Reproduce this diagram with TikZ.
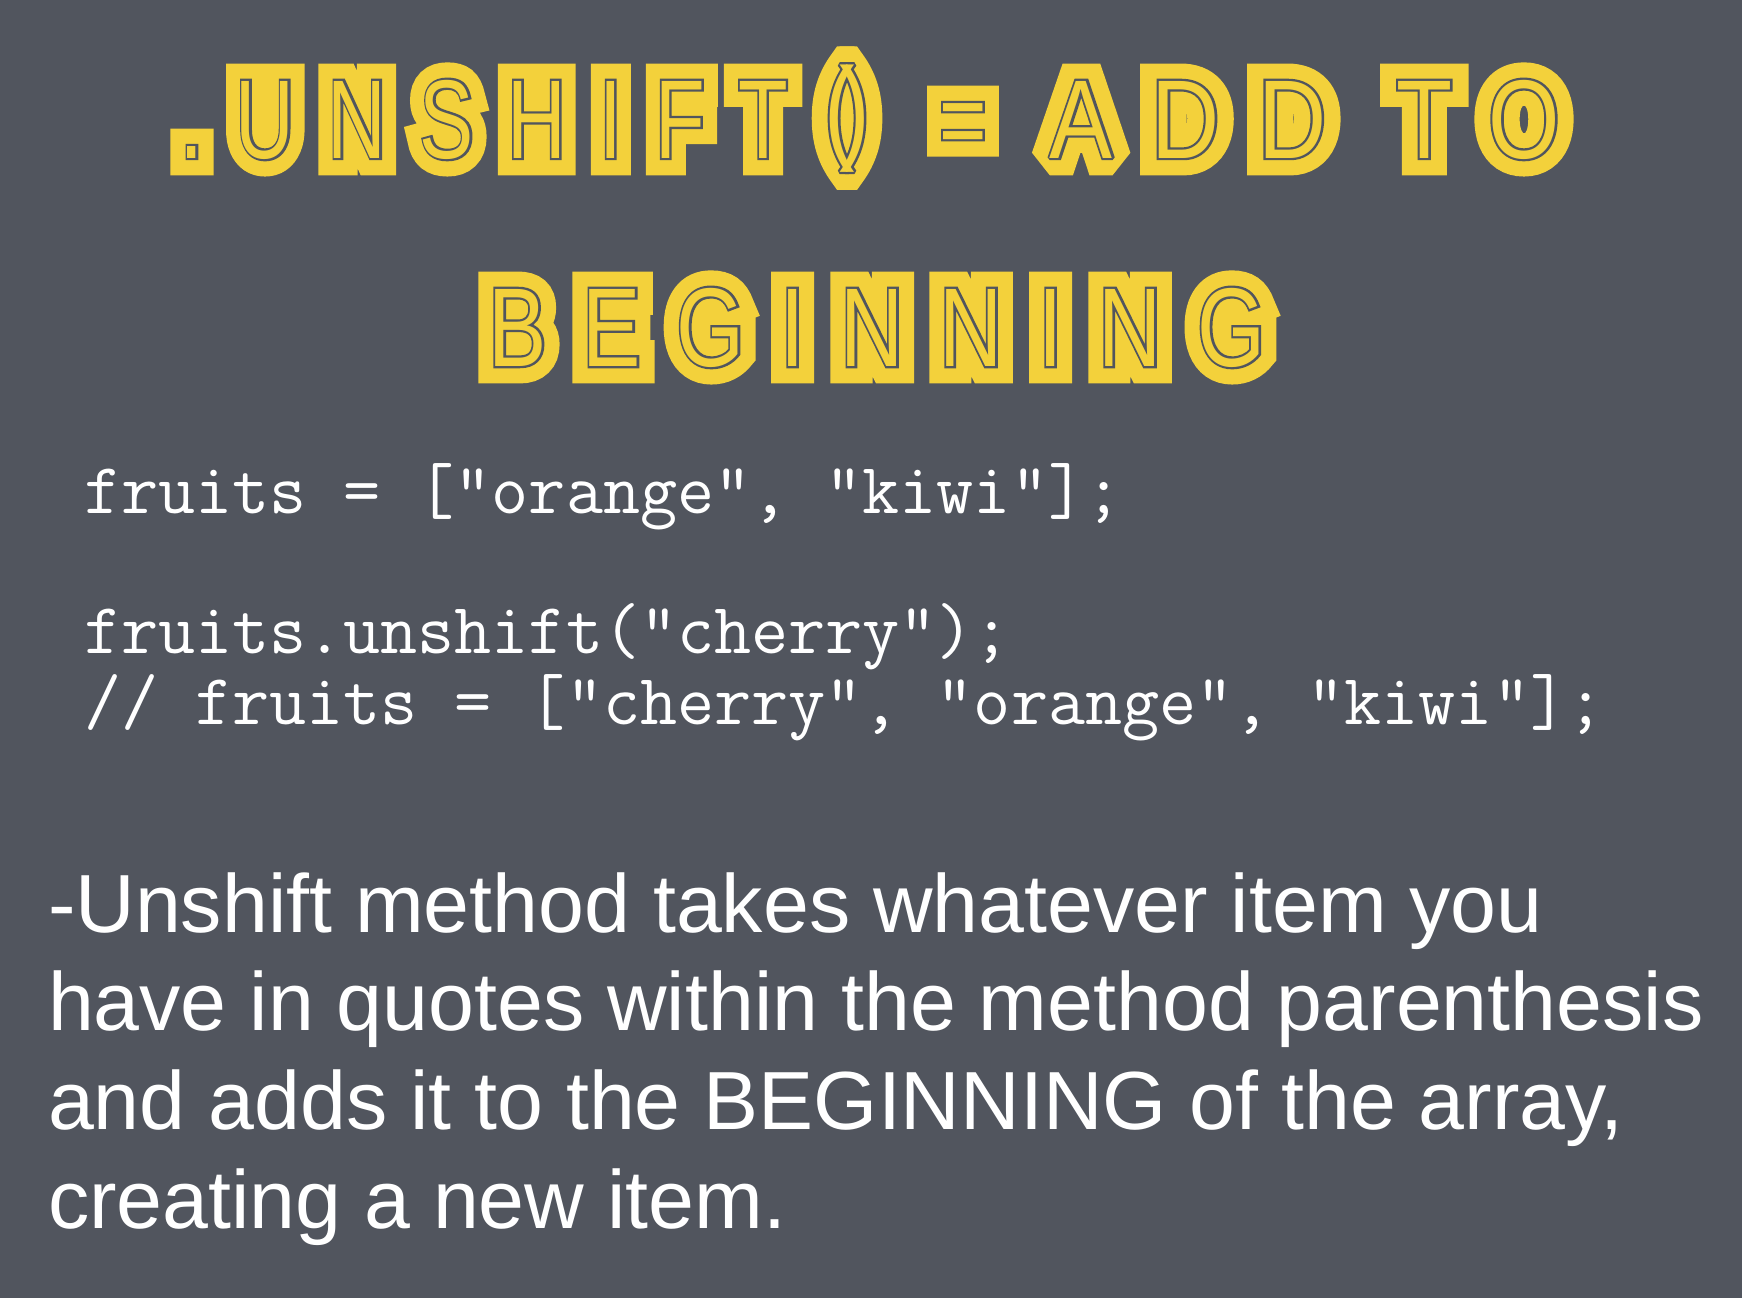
\documentclass[tikz,border=0pt]{standalone}
\usepackage{fontspec}
\setmainfont{Liberation Sans}
\newfontfamily\tFat[FakeBold=31,FakeStretch=0.78,LetterSpace=32]{Liberation Sans}
\newfontfamily\tMid[FakeBold=4,FakeStretch=0.78,LetterSpace=32]{Liberation Sans}
\newfontfamily\tThin[FakeStretch=0.78,LetterSpace=32]{Liberation Sans}
\definecolor{bg}{HTML}{51555E}
\definecolor{ylw}{HTML}{F3D13B}
\newcommand\ttlpiece[4]{%
  \node[tfat]  (#1a) at (#2,#3) {#4};
  \node[tmid]  (#1b) at (#2,#3) {#4};
  \node[tthin] (#1c) at (#2,#3) {#4};}
\tikzset{
  every node/.style={inner sep=0pt, outer sep=0pt},
  tbase/.style={anchor=base, execute at begin node={\special{pdf:literal direct 0 j 1.6 M 0 J}}},
  tfat/.style={tbase, text=ylw, font=\tFat\fontsize{112}{120}\selectfont},
  tmid/.style={tbase, text=bg, font=\tMid\fontsize{112}{120}\selectfont},
  tthin/.style={tbase, text=ylw, font=\tThin\fontsize{112}{120}\selectfont},
  codeline/.style={anchor=base west, text=white, font=\ttfamily\fontsize{72}{70}\selectfont},
  bodyline/.style={anchor=base west, text=white, font=\fontsize{82.5}{98}\selectfont},
}
\begin{document}
\begin{tikzpicture}[x=1pt,y=-1pt]
\fill[bg] (0,0) rectangle (1742,1298);
\useasboundingbox (0,0) rectangle (1742,1298);
% title line 1
\ttlpiece{dot}{192}{158}{.}
\ttlpiece{uns}{512}{158}{\scalebox{0.93}[1]{UNSHIFT}}
\ttlpiece{par}{847}{148}{\scalebox{1.05}[1.03]{(\kern-15pt)}}
\ttlpiece{eq}{963}{158}{\scalebox{0.93}[1]{=}}
\ttlpiece{add}{1188}{158}{\scalebox{1.08}[1]{ADD}}
\ttlpiece{to}{1478}{158}{\scalebox{1.05}[1]{TO}}
% title line 2
\ttlpiece{beg}{877}{366}{\scalebox{1.0}[1]{BEGINNING}}
% code
\node[codeline] (c1) at (84,513) {fruits = ["orange", "kiwi"];};
\node[codeline] (c2) at (84,653) {fruits.unshift("cherry");};
\node[codeline] (c3) at (84,724) {// fruits = ["cherry", "orange", "kiwi"];};
% body
\node[bodyline] (b1) at (48,932) {-Unshift method takes whatever item you};
\node[bodyline] (b2) at (48,1030) {have in quotes within the method parenthesis};
\node[bodyline] (b3) at (48,1129) {and adds it to the BEGINNING of the array,};
\node[bodyline] (b4) at (48,1228) {creating a new item.};
\end{tikzpicture}
\end{document}
